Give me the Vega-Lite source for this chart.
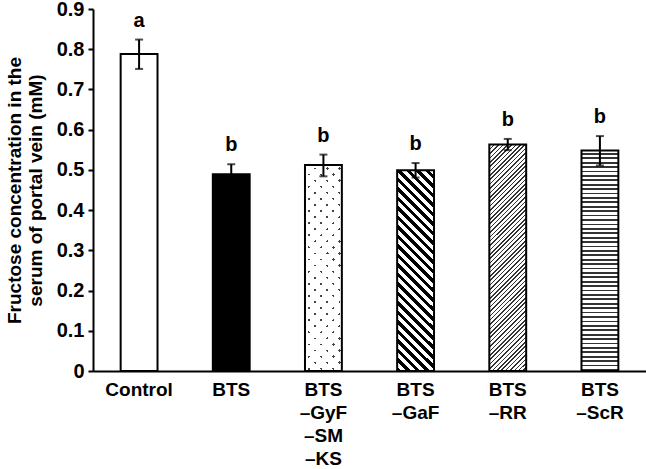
{
"$schema":"https://vega.github.io/schema/vega-lite/v6.json",
"width":553,"height":362,
"autosize":{"type":"none"},
"padding":{"left":93,"top":9,"right":0,"bottom":98},
"background":"#ffffff",
"data":{"values":[
{"key":"ctrl","group":"Control","mean":0.788,"lo":0.751,"hi":0.824,"sig":"a"},
{"key":"bts","group":"BTS","mean":0.489,"lo":0.464,"hi":0.514,"sig":"b"},
{"key":"gyf","group":"BTS –GyF –SM –KS","mean":0.512,"lo":0.484,"hi":0.538,"sig":"b"},
{"key":"gaf","group":"BTS –GaF","mean":0.499,"lo":0.481,"hi":0.517,"sig":"b"},
{"key":"rr","group":"BTS –RR","mean":0.563,"lo":0.549,"hi":0.577,"sig":"b"},
{"key":"scr","group":"BTS –ScR","mean":0.548,"lo":0.511,"hi":0.584,"sig":"b"}
]},
"encoding":{
"x":{"field":"group","type":"nominal","sort":null,
"scale":{"domain":["Control","BTS","BTS –GyF –SM –KS","BTS –GaF","BTS –RR","BTS –ScR"],"paddingInner":0.6,"paddingOuter":0.3},
"axis":{"title":null,"labelAngle":0,"ticks":false,"labelFontSize":19,"labelPadding":9,"labelLineHeight":23,"labelExpr":"split(datum.label, ' ')","labelOverlap":false}},
"y":{"field":"mean","type":"quantitative",
"scale":{"domain":[0,0.9],"nice":false},
"axis":{"title":["Fructose concentration in the","serum of portal vein (mM)"],"values":[0,0.1,0.2,0.3,0.4,0.5,0.6,0.7,0.8,0.9],"format":"~g","labelFontSize":20,"tickSize":5,"labelPadding":4,"titleFontSize":19,"titleLineHeight":21,"titlePadding":11}}
},
"layer":[
{"transform":[{"filter":"datum.key==='ctrl'"}],"mark":{"type":"bar","fill":"#ffffff"}},
{"transform":[{"filter":"datum.key==='bts'"}],"mark":{"type":"bar","fill":"#000000"}},
{"transform":[{"filter":"datum.key==='gyf'"}],"mark":{"type":"bar","fill":{"gradient":"linear","x1":0,"y1":0,"x2":0.2038,"y2":1.1421,"stops":[
{"offset":0,"color":"#444"},
{"offset":0.011,"color":"#444"},{"offset":0.011,"color":"#fff"},{"offset":0.05,"color":"#fff"},{"offset":0.05,"color":"#444"},
{"offset":0.061,"color":"#444"},{"offset":0.061,"color":"#fff"},{"offset":0.1,"color":"#fff"},{"offset":0.1,"color":"#444"},
{"offset":0.111,"color":"#444"},{"offset":0.111,"color":"#fff"},{"offset":0.15,"color":"#fff"},{"offset":0.15,"color":"#444"},
{"offset":0.161,"color":"#444"},{"offset":0.161,"color":"#fff"},{"offset":0.2,"color":"#fff"},{"offset":0.2,"color":"#444"},
{"offset":0.211,"color":"#444"},{"offset":0.211,"color":"#fff"},{"offset":0.25,"color":"#fff"},{"offset":0.25,"color":"#444"},
{"offset":0.261,"color":"#444"},{"offset":0.261,"color":"#fff"},{"offset":0.3,"color":"#fff"},{"offset":0.3,"color":"#444"},
{"offset":0.311,"color":"#444"},{"offset":0.311,"color":"#fff"},{"offset":0.35,"color":"#fff"},{"offset":0.35,"color":"#444"},
{"offset":0.361,"color":"#444"},{"offset":0.361,"color":"#fff"},{"offset":0.4,"color":"#fff"},{"offset":0.4,"color":"#444"},
{"offset":0.411,"color":"#444"},{"offset":0.411,"color":"#fff"},{"offset":0.45,"color":"#fff"},{"offset":0.45,"color":"#444"},
{"offset":0.461,"color":"#444"},{"offset":0.461,"color":"#fff"},{"offset":0.5,"color":"#fff"},{"offset":0.5,"color":"#444"},
{"offset":0.511,"color":"#444"},{"offset":0.511,"color":"#fff"},{"offset":0.55,"color":"#fff"},{"offset":0.55,"color":"#444"},
{"offset":0.561,"color":"#444"},{"offset":0.561,"color":"#fff"},{"offset":0.6,"color":"#fff"},{"offset":0.6,"color":"#444"},
{"offset":0.611,"color":"#444"},{"offset":0.611,"color":"#fff"},{"offset":0.65,"color":"#fff"},{"offset":0.65,"color":"#444"},
{"offset":0.661,"color":"#444"},{"offset":0.661,"color":"#fff"},{"offset":0.7,"color":"#fff"},{"offset":0.7,"color":"#444"},
{"offset":0.711,"color":"#444"},{"offset":0.711,"color":"#fff"},{"offset":0.75,"color":"#fff"},{"offset":0.75,"color":"#444"},
{"offset":0.761,"color":"#444"},{"offset":0.761,"color":"#fff"},{"offset":0.8,"color":"#fff"},{"offset":0.8,"color":"#444"},
{"offset":0.811,"color":"#444"},{"offset":0.811,"color":"#fff"},{"offset":0.85,"color":"#fff"},{"offset":0.85,"color":"#444"},
{"offset":0.861,"color":"#444"},{"offset":0.861,"color":"#fff"},{"offset":0.9,"color":"#fff"},{"offset":0.9,"color":"#444"},
{"offset":0.911,"color":"#444"},{"offset":0.911,"color":"#fff"},{"offset":0.95,"color":"#fff"},{"offset":0.95,"color":"#444"},
{"offset":0.961,"color":"#444"},{"offset":0.961,"color":"#fff"},{"offset":1,"color":"#fff"}
]}}},
{"transform":[{"filter":"datum.key==='gyf'"}],"mark":{"type":"bar","fill":{"gradient":"linear","x1":0,"y1":1,"x2":0.2038,"y2":-0.1421,"stops":[
{"offset":0,"color":"#fff"},
{"offset":0.02,"color":"#fff"},{"offset":0.02,"color":"rgba(255,255,255,0)"},{"offset":0.031,"color":"rgba(255,255,255,0)"},{"offset":0.031,"color":"#fff"},
{"offset":0.07,"color":"#fff"},{"offset":0.07,"color":"rgba(255,255,255,0)"},{"offset":0.081,"color":"rgba(255,255,255,0)"},{"offset":0.081,"color":"#fff"},
{"offset":0.12,"color":"#fff"},{"offset":0.12,"color":"rgba(255,255,255,0)"},{"offset":0.131,"color":"rgba(255,255,255,0)"},{"offset":0.131,"color":"#fff"},
{"offset":0.17,"color":"#fff"},{"offset":0.17,"color":"rgba(255,255,255,0)"},{"offset":0.181,"color":"rgba(255,255,255,0)"},{"offset":0.181,"color":"#fff"},
{"offset":0.22,"color":"#fff"},{"offset":0.22,"color":"rgba(255,255,255,0)"},{"offset":0.231,"color":"rgba(255,255,255,0)"},{"offset":0.231,"color":"#fff"},
{"offset":0.27,"color":"#fff"},{"offset":0.27,"color":"rgba(255,255,255,0)"},{"offset":0.281,"color":"rgba(255,255,255,0)"},{"offset":0.281,"color":"#fff"},
{"offset":0.32,"color":"#fff"},{"offset":0.32,"color":"rgba(255,255,255,0)"},{"offset":0.331,"color":"rgba(255,255,255,0)"},{"offset":0.331,"color":"#fff"},
{"offset":0.37,"color":"#fff"},{"offset":0.37,"color":"rgba(255,255,255,0)"},{"offset":0.381,"color":"rgba(255,255,255,0)"},{"offset":0.381,"color":"#fff"},
{"offset":0.42,"color":"#fff"},{"offset":0.42,"color":"rgba(255,255,255,0)"},{"offset":0.431,"color":"rgba(255,255,255,0)"},{"offset":0.431,"color":"#fff"},
{"offset":0.47,"color":"#fff"},{"offset":0.47,"color":"rgba(255,255,255,0)"},{"offset":0.481,"color":"rgba(255,255,255,0)"},{"offset":0.481,"color":"#fff"},
{"offset":0.52,"color":"#fff"},{"offset":0.52,"color":"rgba(255,255,255,0)"},{"offset":0.531,"color":"rgba(255,255,255,0)"},{"offset":0.531,"color":"#fff"},
{"offset":0.57,"color":"#fff"},{"offset":0.57,"color":"rgba(255,255,255,0)"},{"offset":0.581,"color":"rgba(255,255,255,0)"},{"offset":0.581,"color":"#fff"},
{"offset":0.62,"color":"#fff"},{"offset":0.62,"color":"rgba(255,255,255,0)"},{"offset":0.631,"color":"rgba(255,255,255,0)"},{"offset":0.631,"color":"#fff"},
{"offset":0.67,"color":"#fff"},{"offset":0.67,"color":"rgba(255,255,255,0)"},{"offset":0.681,"color":"rgba(255,255,255,0)"},{"offset":0.681,"color":"#fff"},
{"offset":0.72,"color":"#fff"},{"offset":0.72,"color":"rgba(255,255,255,0)"},{"offset":0.731,"color":"rgba(255,255,255,0)"},{"offset":0.731,"color":"#fff"},
{"offset":0.77,"color":"#fff"},{"offset":0.77,"color":"rgba(255,255,255,0)"},{"offset":0.781,"color":"rgba(255,255,255,0)"},{"offset":0.781,"color":"#fff"},
{"offset":0.82,"color":"#fff"},{"offset":0.82,"color":"rgba(255,255,255,0)"},{"offset":0.831,"color":"rgba(255,255,255,0)"},{"offset":0.831,"color":"#fff"},
{"offset":0.87,"color":"#fff"},{"offset":0.87,"color":"rgba(255,255,255,0)"},{"offset":0.881,"color":"rgba(255,255,255,0)"},{"offset":0.881,"color":"#fff"},
{"offset":0.92,"color":"#fff"},{"offset":0.92,"color":"rgba(255,255,255,0)"},{"offset":0.931,"color":"rgba(255,255,255,0)"},{"offset":0.931,"color":"#fff"},
{"offset":0.97,"color":"#fff"},{"offset":0.97,"color":"rgba(255,255,255,0)"},{"offset":0.981,"color":"rgba(255,255,255,0)"},{"offset":0.981,"color":"#fff"},
{"offset":1,"color":"#fff"}
]}}},
{"transform":[{"filter":"datum.key==='gaf'"}],"mark":{"type":"bar","fill":{"gradient":"linear","x1":0,"y1":1,"x2":0.2095,"y2":-0.1447,"stops":[
{"offset":0,"color":"#000"},
{"offset":0.02,"color":"#000"},{"offset":0.02,"color":"#fff"},{"offset":0.04,"color":"#fff"},{"offset":0.04,"color":"#000"},
{"offset":0.06,"color":"#000"},{"offset":0.06,"color":"#fff"},{"offset":0.08,"color":"#fff"},{"offset":0.08,"color":"#000"},
{"offset":0.10,"color":"#000"},{"offset":0.10,"color":"#fff"},{"offset":0.12,"color":"#fff"},{"offset":0.12,"color":"#000"},
{"offset":0.14,"color":"#000"},{"offset":0.14,"color":"#fff"},{"offset":0.16,"color":"#fff"},{"offset":0.16,"color":"#000"},
{"offset":0.18,"color":"#000"},{"offset":0.18,"color":"#fff"},{"offset":0.20,"color":"#fff"},{"offset":0.20,"color":"#000"},
{"offset":0.22,"color":"#000"},{"offset":0.22,"color":"#fff"},{"offset":0.24,"color":"#fff"},{"offset":0.24,"color":"#000"},
{"offset":0.26,"color":"#000"},{"offset":0.26,"color":"#fff"},{"offset":0.28,"color":"#fff"},{"offset":0.28,"color":"#000"},
{"offset":0.30,"color":"#000"},{"offset":0.30,"color":"#fff"},{"offset":0.32,"color":"#fff"},{"offset":0.32,"color":"#000"},
{"offset":0.34,"color":"#000"},{"offset":0.34,"color":"#fff"},{"offset":0.36,"color":"#fff"},{"offset":0.36,"color":"#000"},
{"offset":0.38,"color":"#000"},{"offset":0.38,"color":"#fff"},{"offset":0.40,"color":"#fff"},{"offset":0.40,"color":"#000"},
{"offset":0.42,"color":"#000"},{"offset":0.42,"color":"#fff"},{"offset":0.44,"color":"#fff"},{"offset":0.44,"color":"#000"},
{"offset":0.46,"color":"#000"},{"offset":0.46,"color":"#fff"},{"offset":0.48,"color":"#fff"},{"offset":0.48,"color":"#000"},
{"offset":0.50,"color":"#000"},{"offset":0.50,"color":"#fff"},{"offset":0.52,"color":"#fff"},{"offset":0.52,"color":"#000"},
{"offset":0.54,"color":"#000"},{"offset":0.54,"color":"#fff"},{"offset":0.56,"color":"#fff"},{"offset":0.56,"color":"#000"},
{"offset":0.58,"color":"#000"},{"offset":0.58,"color":"#fff"},{"offset":0.60,"color":"#fff"},{"offset":0.60,"color":"#000"},
{"offset":0.62,"color":"#000"},{"offset":0.62,"color":"#fff"},{"offset":0.64,"color":"#fff"},{"offset":0.64,"color":"#000"},
{"offset":0.66,"color":"#000"},{"offset":0.66,"color":"#fff"},{"offset":0.68,"color":"#fff"},{"offset":0.68,"color":"#000"},
{"offset":0.70,"color":"#000"},{"offset":0.70,"color":"#fff"},{"offset":0.72,"color":"#fff"},{"offset":0.72,"color":"#000"},
{"offset":0.74,"color":"#000"},{"offset":0.74,"color":"#fff"},{"offset":0.76,"color":"#fff"},{"offset":0.76,"color":"#000"},
{"offset":0.78,"color":"#000"},{"offset":0.78,"color":"#fff"},{"offset":0.80,"color":"#fff"},{"offset":0.80,"color":"#000"},
{"offset":0.82,"color":"#000"},{"offset":0.82,"color":"#fff"},{"offset":0.84,"color":"#fff"},{"offset":0.84,"color":"#000"},
{"offset":0.86,"color":"#000"},{"offset":0.86,"color":"#fff"},{"offset":0.88,"color":"#fff"},{"offset":0.88,"color":"#000"},
{"offset":0.90,"color":"#000"},{"offset":0.90,"color":"#fff"},{"offset":0.92,"color":"#fff"},{"offset":0.92,"color":"#000"},
{"offset":0.94,"color":"#000"},{"offset":0.94,"color":"#fff"},{"offset":0.96,"color":"#fff"},{"offset":0.96,"color":"#000"},
{"offset":0.98,"color":"#000"},{"offset":0.98,"color":"#fff"},{"offset":1,"color":"#fff"}
]}}},
{"transform":[{"filter":"datum.key==='rr'"}],"mark":{"type":"bar","fill":{"gradient":"linear","x1":0,"y1":0,"x2":0.1842,"y2":1.1327,"stops":[
{"offset":0,"color":"#333"},
{"offset":0.006,"color":"#333"},{"offset":0.006,"color":"#fff"},{"offset":0.0167,"color":"#fff"},{"offset":0.0167,"color":"#333"},
{"offset":0.0227,"color":"#333"},{"offset":0.0227,"color":"#fff"},{"offset":0.0333,"color":"#fff"},{"offset":0.0333,"color":"#333"},
{"offset":0.0393,"color":"#333"},{"offset":0.0393,"color":"#fff"},{"offset":0.05,"color":"#fff"},{"offset":0.05,"color":"#333"},
{"offset":0.056,"color":"#333"},{"offset":0.056,"color":"#fff"},{"offset":0.0667,"color":"#fff"},{"offset":0.0667,"color":"#333"},
{"offset":0.0727,"color":"#333"},{"offset":0.0727,"color":"#fff"},{"offset":0.0833,"color":"#fff"},{"offset":0.0833,"color":"#333"},
{"offset":0.0893,"color":"#333"},{"offset":0.0893,"color":"#fff"},{"offset":0.1,"color":"#fff"},{"offset":0.1,"color":"#333"},
{"offset":0.106,"color":"#333"},{"offset":0.106,"color":"#fff"},{"offset":0.1167,"color":"#fff"},{"offset":0.1167,"color":"#333"},
{"offset":0.1227,"color":"#333"},{"offset":0.1227,"color":"#fff"},{"offset":0.1333,"color":"#fff"},{"offset":0.1333,"color":"#333"},
{"offset":0.1393,"color":"#333"},{"offset":0.1393,"color":"#fff"},{"offset":0.15,"color":"#fff"},{"offset":0.15,"color":"#333"},
{"offset":0.156,"color":"#333"},{"offset":0.156,"color":"#fff"},{"offset":0.1667,"color":"#fff"},{"offset":0.1667,"color":"#333"},
{"offset":0.1727,"color":"#333"},{"offset":0.1727,"color":"#fff"},{"offset":0.1833,"color":"#fff"},{"offset":0.1833,"color":"#333"},
{"offset":0.1893,"color":"#333"},{"offset":0.1893,"color":"#fff"},{"offset":0.2,"color":"#fff"},{"offset":0.2,"color":"#333"},
{"offset":0.206,"color":"#333"},{"offset":0.206,"color":"#fff"},{"offset":0.2167,"color":"#fff"},{"offset":0.2167,"color":"#333"},
{"offset":0.2227,"color":"#333"},{"offset":0.2227,"color":"#fff"},{"offset":0.2333,"color":"#fff"},{"offset":0.2333,"color":"#333"},
{"offset":0.2393,"color":"#333"},{"offset":0.2393,"color":"#fff"},{"offset":0.25,"color":"#fff"},{"offset":0.25,"color":"#333"},
{"offset":0.256,"color":"#333"},{"offset":0.256,"color":"#fff"},{"offset":0.2667,"color":"#fff"},{"offset":0.2667,"color":"#333"},
{"offset":0.2727,"color":"#333"},{"offset":0.2727,"color":"#fff"},{"offset":0.2833,"color":"#fff"},{"offset":0.2833,"color":"#333"},
{"offset":0.2893,"color":"#333"},{"offset":0.2893,"color":"#fff"},{"offset":0.3,"color":"#fff"},{"offset":0.3,"color":"#333"},
{"offset":0.306,"color":"#333"},{"offset":0.306,"color":"#fff"},{"offset":0.3167,"color":"#fff"},{"offset":0.3167,"color":"#333"},
{"offset":0.3227,"color":"#333"},{"offset":0.3227,"color":"#fff"},{"offset":0.3333,"color":"#fff"},{"offset":0.3333,"color":"#333"},
{"offset":0.3393,"color":"#333"},{"offset":0.3393,"color":"#fff"},{"offset":0.35,"color":"#fff"},{"offset":0.35,"color":"#333"},
{"offset":0.356,"color":"#333"},{"offset":0.356,"color":"#fff"},{"offset":0.3667,"color":"#fff"},{"offset":0.3667,"color":"#333"},
{"offset":0.3727,"color":"#333"},{"offset":0.3727,"color":"#fff"},{"offset":0.3833,"color":"#fff"},{"offset":0.3833,"color":"#333"},
{"offset":0.3893,"color":"#333"},{"offset":0.3893,"color":"#fff"},{"offset":0.4,"color":"#fff"},{"offset":0.4,"color":"#333"},
{"offset":0.406,"color":"#333"},{"offset":0.406,"color":"#fff"},{"offset":0.4167,"color":"#fff"},{"offset":0.4167,"color":"#333"},
{"offset":0.4227,"color":"#333"},{"offset":0.4227,"color":"#fff"},{"offset":0.4333,"color":"#fff"},{"offset":0.4333,"color":"#333"},
{"offset":0.4393,"color":"#333"},{"offset":0.4393,"color":"#fff"},{"offset":0.45,"color":"#fff"},{"offset":0.45,"color":"#333"},
{"offset":0.456,"color":"#333"},{"offset":0.456,"color":"#fff"},{"offset":0.4667,"color":"#fff"},{"offset":0.4667,"color":"#333"},
{"offset":0.4727,"color":"#333"},{"offset":0.4727,"color":"#fff"},{"offset":0.4833,"color":"#fff"},{"offset":0.4833,"color":"#333"},
{"offset":0.4893,"color":"#333"},{"offset":0.4893,"color":"#fff"},{"offset":0.5,"color":"#fff"},{"offset":0.5,"color":"#333"},
{"offset":0.506,"color":"#333"},{"offset":0.506,"color":"#fff"},{"offset":0.5167,"color":"#fff"},{"offset":0.5167,"color":"#333"},
{"offset":0.5227,"color":"#333"},{"offset":0.5227,"color":"#fff"},{"offset":0.5333,"color":"#fff"},{"offset":0.5333,"color":"#333"},
{"offset":0.5393,"color":"#333"},{"offset":0.5393,"color":"#fff"},{"offset":0.55,"color":"#fff"},{"offset":0.55,"color":"#333"},
{"offset":0.556,"color":"#333"},{"offset":0.556,"color":"#fff"},{"offset":0.5667,"color":"#fff"},{"offset":0.5667,"color":"#333"},
{"offset":0.5727,"color":"#333"},{"offset":0.5727,"color":"#fff"},{"offset":0.5833,"color":"#fff"},{"offset":0.5833,"color":"#333"},
{"offset":0.5893,"color":"#333"},{"offset":0.5893,"color":"#fff"},{"offset":0.6,"color":"#fff"},{"offset":0.6,"color":"#333"},
{"offset":0.606,"color":"#333"},{"offset":0.606,"color":"#fff"},{"offset":0.6167,"color":"#fff"},{"offset":0.6167,"color":"#333"},
{"offset":0.6227,"color":"#333"},{"offset":0.6227,"color":"#fff"},{"offset":0.6333,"color":"#fff"},{"offset":0.6333,"color":"#333"},
{"offset":0.6393,"color":"#333"},{"offset":0.6393,"color":"#fff"},{"offset":0.65,"color":"#fff"},{"offset":0.65,"color":"#333"},
{"offset":0.656,"color":"#333"},{"offset":0.656,"color":"#fff"},{"offset":0.6667,"color":"#fff"},{"offset":0.6667,"color":"#333"},
{"offset":0.6727,"color":"#333"},{"offset":0.6727,"color":"#fff"},{"offset":0.6833,"color":"#fff"},{"offset":0.6833,"color":"#333"},
{"offset":0.6893,"color":"#333"},{"offset":0.6893,"color":"#fff"},{"offset":0.7,"color":"#fff"},{"offset":0.7,"color":"#333"},
{"offset":0.706,"color":"#333"},{"offset":0.706,"color":"#fff"},{"offset":0.7167,"color":"#fff"},{"offset":0.7167,"color":"#333"},
{"offset":0.7227,"color":"#333"},{"offset":0.7227,"color":"#fff"},{"offset":0.7333,"color":"#fff"},{"offset":0.7333,"color":"#333"},
{"offset":0.7393,"color":"#333"},{"offset":0.7393,"color":"#fff"},{"offset":0.75,"color":"#fff"},{"offset":0.75,"color":"#333"},
{"offset":0.756,"color":"#333"},{"offset":0.756,"color":"#fff"},{"offset":0.7667,"color":"#fff"},{"offset":0.7667,"color":"#333"},
{"offset":0.7727,"color":"#333"},{"offset":0.7727,"color":"#fff"},{"offset":0.7833,"color":"#fff"},{"offset":0.7833,"color":"#333"},
{"offset":0.7893,"color":"#333"},{"offset":0.7893,"color":"#fff"},{"offset":0.8,"color":"#fff"},{"offset":0.8,"color":"#333"},
{"offset":0.806,"color":"#333"},{"offset":0.806,"color":"#fff"},{"offset":0.8167,"color":"#fff"},{"offset":0.8167,"color":"#333"},
{"offset":0.8227,"color":"#333"},{"offset":0.8227,"color":"#fff"},{"offset":0.8333,"color":"#fff"},{"offset":0.8333,"color":"#333"},
{"offset":0.8393,"color":"#333"},{"offset":0.8393,"color":"#fff"},{"offset":0.85,"color":"#fff"},{"offset":0.85,"color":"#333"},
{"offset":0.856,"color":"#333"},{"offset":0.856,"color":"#fff"},{"offset":0.8667,"color":"#fff"},{"offset":0.8667,"color":"#333"},
{"offset":0.8727,"color":"#333"},{"offset":0.8727,"color":"#fff"},{"offset":0.8833,"color":"#fff"},{"offset":0.8833,"color":"#333"},
{"offset":0.8893,"color":"#333"},{"offset":0.8893,"color":"#fff"},{"offset":0.9,"color":"#fff"},{"offset":0.9,"color":"#333"},
{"offset":0.906,"color":"#333"},{"offset":0.906,"color":"#fff"},{"offset":0.9167,"color":"#fff"},{"offset":0.9167,"color":"#333"},
{"offset":0.9227,"color":"#333"},{"offset":0.9227,"color":"#fff"},{"offset":0.9333,"color":"#fff"},{"offset":0.9333,"color":"#333"},
{"offset":0.9393,"color":"#333"},{"offset":0.9393,"color":"#fff"},{"offset":0.95,"color":"#fff"},{"offset":0.95,"color":"#333"},
{"offset":0.956,"color":"#333"},{"offset":0.956,"color":"#fff"},{"offset":0.9667,"color":"#fff"},{"offset":0.9667,"color":"#333"},
{"offset":0.9727,"color":"#333"},{"offset":0.9727,"color":"#fff"},{"offset":0.9833,"color":"#fff"},{"offset":0.9833,"color":"#333"},
{"offset":0.9893,"color":"#333"},{"offset":0.9893,"color":"#fff"},{"offset":1,"color":"#fff"}
]}}},
{"transform":[{"filter":"datum.key==='scr'"}],"mark":{"type":"bar","fill":{"gradient":"linear","x1":0,"y1":0,"x2":0,"y2":1,"stops":[
{"offset":0,"color":"#fff"},
{"offset":0.011,"color":"#fff"},{"offset":0.011,"color":"#333"},{"offset":0.019,"color":"#333"},{"offset":0.019,"color":"#fff"},
{"offset":0.031,"color":"#fff"},{"offset":0.031,"color":"#333"},{"offset":0.039,"color":"#333"},{"offset":0.039,"color":"#fff"},
{"offset":0.051,"color":"#fff"},{"offset":0.051,"color":"#333"},{"offset":0.059,"color":"#333"},{"offset":0.059,"color":"#fff"},
{"offset":0.071,"color":"#fff"},{"offset":0.071,"color":"#333"},{"offset":0.079,"color":"#333"},{"offset":0.079,"color":"#fff"},
{"offset":0.091,"color":"#fff"},{"offset":0.091,"color":"#333"},{"offset":0.099,"color":"#333"},{"offset":0.099,"color":"#fff"},
{"offset":0.111,"color":"#fff"},{"offset":0.111,"color":"#333"},{"offset":0.119,"color":"#333"},{"offset":0.119,"color":"#fff"},
{"offset":0.131,"color":"#fff"},{"offset":0.131,"color":"#333"},{"offset":0.139,"color":"#333"},{"offset":0.139,"color":"#fff"},
{"offset":0.151,"color":"#fff"},{"offset":0.151,"color":"#333"},{"offset":0.159,"color":"#333"},{"offset":0.159,"color":"#fff"},
{"offset":0.171,"color":"#fff"},{"offset":0.171,"color":"#333"},{"offset":0.179,"color":"#333"},{"offset":0.179,"color":"#fff"},
{"offset":0.191,"color":"#fff"},{"offset":0.191,"color":"#333"},{"offset":0.199,"color":"#333"},{"offset":0.199,"color":"#fff"},
{"offset":0.211,"color":"#fff"},{"offset":0.211,"color":"#333"},{"offset":0.219,"color":"#333"},{"offset":0.219,"color":"#fff"},
{"offset":0.231,"color":"#fff"},{"offset":0.231,"color":"#333"},{"offset":0.239,"color":"#333"},{"offset":0.239,"color":"#fff"},
{"offset":0.251,"color":"#fff"},{"offset":0.251,"color":"#333"},{"offset":0.259,"color":"#333"},{"offset":0.259,"color":"#fff"},
{"offset":0.271,"color":"#fff"},{"offset":0.271,"color":"#333"},{"offset":0.279,"color":"#333"},{"offset":0.279,"color":"#fff"},
{"offset":0.291,"color":"#fff"},{"offset":0.291,"color":"#333"},{"offset":0.299,"color":"#333"},{"offset":0.299,"color":"#fff"},
{"offset":0.311,"color":"#fff"},{"offset":0.311,"color":"#333"},{"offset":0.319,"color":"#333"},{"offset":0.319,"color":"#fff"},
{"offset":0.331,"color":"#fff"},{"offset":0.331,"color":"#333"},{"offset":0.339,"color":"#333"},{"offset":0.339,"color":"#fff"},
{"offset":0.351,"color":"#fff"},{"offset":0.351,"color":"#333"},{"offset":0.359,"color":"#333"},{"offset":0.359,"color":"#fff"},
{"offset":0.371,"color":"#fff"},{"offset":0.371,"color":"#333"},{"offset":0.379,"color":"#333"},{"offset":0.379,"color":"#fff"},
{"offset":0.391,"color":"#fff"},{"offset":0.391,"color":"#333"},{"offset":0.399,"color":"#333"},{"offset":0.399,"color":"#fff"},
{"offset":0.411,"color":"#fff"},{"offset":0.411,"color":"#333"},{"offset":0.419,"color":"#333"},{"offset":0.419,"color":"#fff"},
{"offset":0.431,"color":"#fff"},{"offset":0.431,"color":"#333"},{"offset":0.439,"color":"#333"},{"offset":0.439,"color":"#fff"},
{"offset":0.451,"color":"#fff"},{"offset":0.451,"color":"#333"},{"offset":0.459,"color":"#333"},{"offset":0.459,"color":"#fff"},
{"offset":0.471,"color":"#fff"},{"offset":0.471,"color":"#333"},{"offset":0.479,"color":"#333"},{"offset":0.479,"color":"#fff"},
{"offset":0.491,"color":"#fff"},{"offset":0.491,"color":"#333"},{"offset":0.499,"color":"#333"},{"offset":0.499,"color":"#fff"},
{"offset":0.511,"color":"#fff"},{"offset":0.511,"color":"#333"},{"offset":0.519,"color":"#333"},{"offset":0.519,"color":"#fff"},
{"offset":0.531,"color":"#fff"},{"offset":0.531,"color":"#333"},{"offset":0.539,"color":"#333"},{"offset":0.539,"color":"#fff"},
{"offset":0.551,"color":"#fff"},{"offset":0.551,"color":"#333"},{"offset":0.559,"color":"#333"},{"offset":0.559,"color":"#fff"},
{"offset":0.571,"color":"#fff"},{"offset":0.571,"color":"#333"},{"offset":0.579,"color":"#333"},{"offset":0.579,"color":"#fff"},
{"offset":0.591,"color":"#fff"},{"offset":0.591,"color":"#333"},{"offset":0.599,"color":"#333"},{"offset":0.599,"color":"#fff"},
{"offset":0.611,"color":"#fff"},{"offset":0.611,"color":"#333"},{"offset":0.619,"color":"#333"},{"offset":0.619,"color":"#fff"},
{"offset":0.631,"color":"#fff"},{"offset":0.631,"color":"#333"},{"offset":0.639,"color":"#333"},{"offset":0.639,"color":"#fff"},
{"offset":0.651,"color":"#fff"},{"offset":0.651,"color":"#333"},{"offset":0.659,"color":"#333"},{"offset":0.659,"color":"#fff"},
{"offset":0.671,"color":"#fff"},{"offset":0.671,"color":"#333"},{"offset":0.679,"color":"#333"},{"offset":0.679,"color":"#fff"},
{"offset":0.691,"color":"#fff"},{"offset":0.691,"color":"#333"},{"offset":0.699,"color":"#333"},{"offset":0.699,"color":"#fff"},
{"offset":0.711,"color":"#fff"},{"offset":0.711,"color":"#333"},{"offset":0.719,"color":"#333"},{"offset":0.719,"color":"#fff"},
{"offset":0.731,"color":"#fff"},{"offset":0.731,"color":"#333"},{"offset":0.739,"color":"#333"},{"offset":0.739,"color":"#fff"},
{"offset":0.751,"color":"#fff"},{"offset":0.751,"color":"#333"},{"offset":0.759,"color":"#333"},{"offset":0.759,"color":"#fff"},
{"offset":0.771,"color":"#fff"},{"offset":0.771,"color":"#333"},{"offset":0.779,"color":"#333"},{"offset":0.779,"color":"#fff"},
{"offset":0.791,"color":"#fff"},{"offset":0.791,"color":"#333"},{"offset":0.799,"color":"#333"},{"offset":0.799,"color":"#fff"},
{"offset":0.811,"color":"#fff"},{"offset":0.811,"color":"#333"},{"offset":0.819,"color":"#333"},{"offset":0.819,"color":"#fff"},
{"offset":0.831,"color":"#fff"},{"offset":0.831,"color":"#333"},{"offset":0.839,"color":"#333"},{"offset":0.839,"color":"#fff"},
{"offset":0.851,"color":"#fff"},{"offset":0.851,"color":"#333"},{"offset":0.859,"color":"#333"},{"offset":0.859,"color":"#fff"},
{"offset":0.871,"color":"#fff"},{"offset":0.871,"color":"#333"},{"offset":0.879,"color":"#333"},{"offset":0.879,"color":"#fff"},
{"offset":0.891,"color":"#fff"},{"offset":0.891,"color":"#333"},{"offset":0.899,"color":"#333"},{"offset":0.899,"color":"#fff"},
{"offset":0.911,"color":"#fff"},{"offset":0.911,"color":"#333"},{"offset":0.919,"color":"#333"},{"offset":0.919,"color":"#fff"},
{"offset":0.931,"color":"#fff"},{"offset":0.931,"color":"#333"},{"offset":0.939,"color":"#333"},{"offset":0.939,"color":"#fff"},
{"offset":0.951,"color":"#fff"},{"offset":0.951,"color":"#333"},{"offset":0.959,"color":"#333"},{"offset":0.959,"color":"#fff"},
{"offset":0.971,"color":"#fff"},{"offset":0.971,"color":"#333"},{"offset":0.979,"color":"#333"},{"offset":0.979,"color":"#fff"},
{"offset":0.991,"color":"#fff"},{"offset":0.991,"color":"#333"},{"offset":0.999,"color":"#333"},{"offset":0.999,"color":"#fff"},
{"offset":1,"color":"#fff"}
]}}},
{"mark":{"type":"bar","fill":"#ffffff","fillOpacity":0,"stroke":"#000000","strokeWidth":2}},
{"mark":{"type":"rule","color":"#000000","strokeWidth":2},"encoding":{"y":{"field":"lo","type":"quantitative"},"y2":{"field":"hi"}}},
{"mark":{"type":"tick","color":"#000000","size":8,"thickness":2},"encoding":{"y":{"field":"lo","type":"quantitative"}}},
{"mark":{"type":"tick","color":"#000000","size":8,"thickness":2},"encoding":{"y":{"field":"hi","type":"quantitative"}}},
{"mark":{"type":"text","color":"#000000","font":"Liberation Sans","fontSize":20,"fontWeight":"bold","baseline":"alphabetic","dy":-13},"encoding":{"y":{"field":"hi","type":"quantitative"},"text":{"field":"sig"}}}
],
"config":{
"view":{"stroke":null},
"font":"Liberation Sans",
"axis":{"labelFont":"Liberation Sans","titleFont":"Liberation Sans","labelFontWeight":"bold","titleFontWeight":"bold","labelColor":"#000","titleColor":"#000","domainColor":"#000","tickColor":"#000","domainWidth":2,"tickWidth":2,"grid":false}
}
}
